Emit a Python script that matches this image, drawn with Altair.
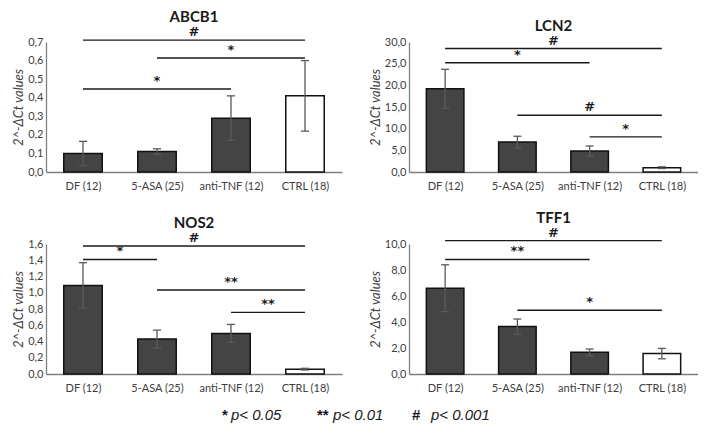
import altair as alt
import pandas as pd

groups = ["DF (12)", "5-ASA (25)", "anti-TNF (12)", "CTRL (18)"]
bar_fill = ["#444444", "#444444", "#444444", "#ffffff"]

abcb1_mean = [0.10, 0.11, 0.29, 0.41]
abcb1_err = [0.065, 0.015, 0.12, 0.19]
lcn2_mean = [19.2, 6.9, 4.85, 1.0]
lcn2_err = [4.5, 1.35, 1.15, 0.2]
nos2_mean = [1.09, 0.43, 0.50, 0.06]
nos2_err = [0.28, 0.11, 0.11, 0.01]
tff1_mean = [6.6, 3.65, 1.67, 1.57]
tff1_err = [1.8, 0.58, 0.25, 0.4]

# significance brackets: (from group index, to group index, level, label)
abcb1_sig = [(0, 3, 0.71, "#"), (1, 3, 0.614, "*"), (0, 2, 0.447, "*")]
lcn2_sig = [(0, 3, 28.5, "#"), (0, 2, 25.2, "*"), (1, 3, 13.1, "#"), (2, 3, 8.1, "*")]
nos2_sig = [(0, 3, 1.575, "#"), (0, 1, 1.41, "*"), (1, 3, 1.034, "**"), (2, 3, 0.759, "**")]
tff1_sig = [(0, 3, 10.26, "#"), (0, 2, 8.81, "**"), (1, 3, 4.9, "*")]

footer_sym = ["*", "**", "#"]
footer_txt = ["p< 0.05", "p< 0.01", "p< 0.001"]

FONT = "Lato"
label_expr = "[" + ",".join("'%s'" % g for g in groups) + "][datum.value]"


def panel(title, mean, err, sig, ymax, ystep, w):
    df = pd.DataFrame({"idx": list(range(4)), "group": groups, "mean": mean,
                       "err": err, "fill": bar_fill})
    df["x1"] = df["idx"] - 0.26
    df["x2"] = df["idx"] + 0.26
    df["lo"] = df["mean"] - df["err"]
    df["hi"] = df["mean"] + df["err"]
    df["cl"] = df["idx"] - 0.055
    df["cr"] = df["idx"] + 0.055
    df["zero"] = 0.0
    sdf = pd.DataFrame(sig, columns=["a", "b", "level", "label"])
    sdf["mid"] = (sdf["a"] + sdf["b"]) / 2

    xs = alt.Scale(domain=[-0.5, 3.5], nice=False, zero=False)
    ys = alt.Scale(domain=[0, ymax], nice=False)
    n = int(round(ymax / ystep))
    yvals = [round(i * ystep, 4) for i in range(n + 1)]
    xax = alt.Axis(values=[0, 1, 2, 3], labelExpr=label_expr, title=None,
                   ticks=False, grid=False, domainColor="#7f7f7f", domainWidth=1.3,
                   labelFont=FONT, labelFontSize=11, labelColor="#404040",
                   labelPadding=8, labelOverlap=False)
    yax = alt.Axis(values=yvals,
                   labelExpr="replace(format(datum.value, '.1f'), '.', ',')",
                   title="2^-ΔCt values", titleFont=FONT, titleFontSize=13,
                   titleFontStyle="italic", titleFontWeight="normal",
                   titleColor="#404040", titlePadding=2,
                   ticks=False, grid=False, domainColor="#7f7f7f", domainWidth=1.3,
                   labelFont=FONT, labelFontSize=11, labelColor="#404040",
                   labelPadding=3, labelOverlap=False)

    def X(f):
        return alt.X(f, scale=xs, axis=xax)

    def Y(f):
        return alt.Y(f, scale=ys, axis=yax)

    base = alt.Chart(df)
    bars = base.mark_bar(stroke="#111111", strokeWidth=1.5).encode(
        x=X("x1:Q"), x2="x2:Q", y=Y("mean:Q"), y2="zero:Q",
        fill=alt.Fill("fill:N", scale=None),
    )
    ebar = base.mark_rule(color="#5a5a5a", strokeWidth=1.3).encode(
        x=X("idx:Q"), y=Y("lo:Q"), y2="hi:Q")
    cap_hi = base.mark_rule(color="#5a5a5a", strokeWidth=1.3).encode(
        x=X("cl:Q"), x2="cr:Q", y=Y("hi:Q"))
    cap_lo = base.mark_rule(color="#5a5a5a", strokeWidth=1.3).encode(
        x=X("cl:Q"), x2="cr:Q", y=Y("lo:Q"))
    sbase = alt.Chart(sdf)
    slines = sbase.mark_rule(color="#1a1a1a", strokeWidth=1.4).encode(
        x=X("a:Q"), x2="b:Q", y=Y("level:Q"))
    stext = sbase.mark_text(font="DejaVu Sans", fontSize=13, fontWeight="bold",
                            color="#1a1a1a", baseline="bottom", dy=-1).encode(
        x=X("mid:Q"), y=Y("level:Q"), text="label:N")
    return alt.layer(bars, ebar, cap_hi, cap_lo, slines, stext).properties(
        width=w, height=130,
        title=alt.TitleParams(title, font=FONT, fontSize=15, fontWeight="bold",
                              color="#1a1a1a", offset=1),
    )


p1 = panel("ABCB1", abcb1_mean, abcb1_err, abcb1_sig, 0.7, 0.1, 296)
p2 = panel("LCN2", lcn2_mean, lcn2_err, lcn2_sig, 30, 5, 289)
p3 = panel("NOS2", nos2_mean, nos2_err, nos2_sig, 1.6, 0.2, 296)
p4 = panel("TFF1", tff1_mean, tff1_err, tff1_sig, 10, 2, 289)

fdf = pd.DataFrame({"k": [0]})
fpos_sym = [176, 271, 366]
fpos_txt = [185, 287, 385]
flayers = []
for s, t, xs_, xt_ in zip(footer_sym, footer_txt, fpos_sym, fpos_txt):
    flayers.append(alt.Chart(fdf).mark_text(
        font="Liberation Sans", fontSize=15, fontWeight="bold", color="#1a1a1a",
        align="left", baseline="middle").encode(
        x=alt.value(xs_), y=alt.value(10), text=alt.value(s)))
    flayers.append(alt.Chart(fdf).mark_text(
        font="Liberation Sans", fontSize=15, fontStyle="italic", color="#1a1a1a",
        align="left", baseline="middle").encode(
        x=alt.value(xt_), y=alt.value(10), text=alt.value(t)))
footer = alt.layer(*flayers).properties(width=460, height=20)

grid = alt.vconcat(
    alt.hconcat(p1, p2, spacing=27),
    alt.hconcat(p3, p4, spacing=27),
    spacing=19,
)
chart = alt.vconcat(grid, footer, spacing=12).properties(
    padding={"left": 4, "top": 2, "right": 0, "bottom": 0}
).configure_view(stroke=None)

chart.save("out.html", embed_options={"renderer": "svg", "actions": False})
